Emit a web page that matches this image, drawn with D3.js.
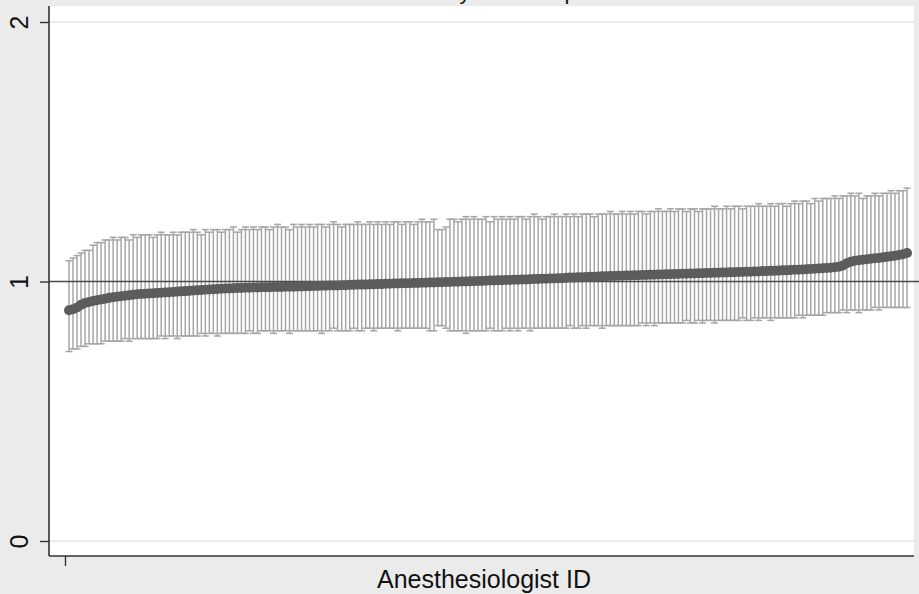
<!DOCTYPE html>
<html>
<head>
<meta charset="utf-8">
<script src="https://cdn.jsdelivr.net/npm/d3@7"></script>
<style>
html,body{margin:0;padding:0;background:#ebebeb;}
svg{display:block;}
text{font-family:"Liberation Sans",Arial,sans-serif;fill:#111;}
</style>
</head>
<body>
<svg id="chart" width="919" height="594"></svg>
<script>
const titleText = "Odds Ratio by OR Group";
const xTitle = "Anesthesiologist ID";
const yTicks = [0, 1, 2];
const xTicks = [0];
const refValue = 1;

const estimate = [
0.889,0.893,0.900,0.910,0.917,0.921,0.925,0.928,0.931,0.934,
0.937,0.939,0.941,0.943,0.945,0.947,0.949,0.951,0.952,0.953,
0.954,0.955,0.956,0.957,0.958,0.959,0.960,0.961,0.962,0.963,
0.964,0.965,0.966,0.967,0.968,0.969,0.970,0.971,0.972,0.973,
0.973,0.974,0.975,0.975,0.976,0.976,0.977,0.977,0.978,0.978,
0.978,0.979,0.979,0.979,0.980,0.980,0.980,0.981,0.981,0.982,
0.982,0.983,0.983,0.984,0.984,0.985,0.985,0.985,0.986,0.986,
0.987,0.987,0.988,0.988,0.988,0.989,0.989,0.990,0.990,0.991,
0.991,0.992,0.992,0.993,0.993,0.993,0.994,0.994,0.995,0.995,
0.996,0.996,0.997,0.997,0.998,0.998,0.999,0.999,1.000,1.000,
1.001,1.001,1.002,1.002,1.003,1.004,1.004,1.005,1.005,1.006,
1.006,1.007,1.007,1.008,1.008,1.009,1.010,1.010,1.011,1.011,
1.012,1.012,1.013,1.013,1.014,1.015,1.015,1.016,1.016,1.017,
1.018,1.018,1.019,1.020,1.020,1.021,1.021,1.022,1.022,1.023,
1.023,1.024,1.024,1.025,1.025,1.026,1.026,1.027,1.027,1.028,
1.028,1.029,1.029,1.030,1.030,1.031,1.031,1.032,1.032,1.033,
1.033,1.034,1.034,1.035,1.035,1.036,1.036,1.037,1.037,1.038,
1.038,1.039,1.039,1.040,1.040,1.041,1.041,1.042,1.043,1.043,
1.044,1.045,1.045,1.046,1.047,1.048,1.049,1.050,1.051,1.052,
1.053,1.055,1.057,1.062,1.070,1.076,1.080,1.082,1.084,1.086,
1.088,1.090,1.091,1.093,1.095,1.097,1.099,1.102,1.105,1.110
];

const upper = [
1.08,1.09,1.10,1.11,1.12,1.12,1.14,1.15,1.15,1.16,
1.16,1.17,1.16,1.17,1.17,1.16,1.18,1.17,1.18,1.18,
1.18,1.17,1.18,1.19,1.18,1.18,1.19,1.18,1.19,1.19,
1.19,1.20,1.19,1.18,1.20,1.19,1.20,1.20,1.19,1.20,
1.20,1.21,1.19,1.20,1.21,1.20,1.21,1.20,1.21,1.21,
1.20,1.21,1.22,1.21,1.21,1.20,1.22,1.21,1.22,1.21,
1.22,1.21,1.22,1.22,1.21,1.22,1.23,1.22,1.21,1.22,
1.22,1.22,1.23,1.22,1.22,1.23,1.22,1.23,1.22,1.23,
1.22,1.23,1.23,1.22,1.23,1.23,1.22,1.23,1.24,1.23,
1.23,1.24,1.20,1.20,1.21,1.24,1.24,1.23,1.24,1.25,
1.24,1.25,1.24,1.24,1.25,1.23,1.25,1.24,1.25,1.24,
1.25,1.24,1.25,1.25,1.24,1.25,1.26,1.25,1.24,1.25,
1.25,1.26,1.25,1.25,1.26,1.25,1.26,1.25,1.26,1.26,
1.26,1.25,1.26,1.26,1.26,1.27,1.26,1.26,1.27,1.26,
1.27,1.26,1.27,1.27,1.26,1.27,1.27,1.28,1.27,1.27,
1.28,1.27,1.28,1.28,1.27,1.28,1.28,1.27,1.28,1.28,
1.28,1.29,1.28,1.28,1.29,1.28,1.29,1.29,1.28,1.29,
1.29,1.29,1.30,1.29,1.29,1.30,1.29,1.30,1.30,1.29,
1.30,1.31,1.30,1.31,1.31,1.30,1.32,1.31,1.32,1.32,
1.32,1.33,1.32,1.33,1.33,1.34,1.33,1.34,1.32,1.33,
1.33,1.34,1.33,1.34,1.34,1.35,1.34,1.35,1.35,1.36
];

const lower = [
0.73,0.74,0.74,0.75,0.75,0.76,0.76,0.76,0.76,0.77,
0.77,0.77,0.77,0.77,0.78,0.77,0.78,0.78,0.78,0.78,
0.78,0.78,0.78,0.79,0.78,0.79,0.79,0.78,0.79,0.79,
0.79,0.79,0.79,0.80,0.79,0.80,0.80,0.79,0.80,0.80,
0.80,0.80,0.80,0.80,0.80,0.81,0.80,0.80,0.81,0.81,
0.81,0.80,0.81,0.81,0.81,0.80,0.81,0.81,0.81,0.81,
0.81,0.81,0.81,0.80,0.81,0.81,0.82,0.81,0.81,0.81,
0.81,0.82,0.81,0.81,0.82,0.82,0.81,0.82,0.82,0.82,
0.82,0.82,0.81,0.82,0.82,0.82,0.82,0.82,0.82,0.82,
0.81,0.81,0.83,0.83,0.82,0.81,0.81,0.81,0.81,0.80,
0.81,0.81,0.81,0.81,0.81,0.82,0.81,0.81,0.81,0.82,
0.81,0.82,0.81,0.82,0.82,0.81,0.82,0.82,0.82,0.82,
0.82,0.82,0.82,0.82,0.82,0.83,0.82,0.82,0.83,0.82,
0.83,0.83,0.83,0.82,0.83,0.83,0.83,0.83,0.83,0.83,
0.83,0.83,0.83,0.84,0.83,0.84,0.83,0.84,0.84,0.84,
0.84,0.84,0.84,0.84,0.85,0.84,0.84,0.85,0.84,0.85,
0.85,0.84,0.85,0.85,0.85,0.85,0.85,0.85,0.86,0.85,
0.85,0.86,0.85,0.86,0.86,0.85,0.86,0.86,0.86,0.86,
0.86,0.86,0.87,0.86,0.87,0.87,0.87,0.87,0.87,0.88,
0.88,0.88,0.88,0.89,0.88,0.89,0.89,0.88,0.89,0.89,
0.89,0.90,0.89,0.90,0.90,0.90,0.90,0.90,0.90,0.90
];

const ids = estimate.map((d, i) => i + 1);
const data = ids.map((id, i) => ({id, est: estimate[i], lo: lower[i], hi: upper[i]}));

const svg = d3.select("#chart");
const W = 919, H = 594;
const plot = {left: 49, right: 914, top: 6, bottom: 556};

const x = d3.scaleLinear().domain([0, ids.length]).range([65, 907]);
const y = d3.scaleLinear().domain([0, 2]).range([541, 22]);

// background
svg.append("rect").attr("width", W).attr("height", H).attr("fill", "#ebebeb");
svg.append("rect")
  .attr("x", plot.left).attr("y", plot.top)
  .attr("width", plot.right - plot.left).attr("height", plot.bottom - plot.top)
  .attr("fill", "#ffffff");

// title (cropped at top edge, as in the reference)
svg.append("text")
  .attr("x", 331).attr("y", -1)
  .attr("font-size", 22)
  .text(titleText);

// gridlines
svg.append("g").selectAll("line").data(yTicks.filter(t => t !== refValue)).join("line")
  .attr("x1", plot.left).attr("x2", plot.right)
  .attr("y1", d => y(d)).attr("y2", d => y(d))
  .attr("stroke", "#e4e4e4").attr("stroke-width", 1.6);

// error bars
const eb = svg.append("g").attr("stroke", "#a6a6a6").attr("stroke-width", 1.5).attr("fill", "none");
eb.selectAll("line.v").data(data).join("line").attr("class", "v")
  .attr("x1", d => x(d.id)).attr("x2", d => x(d.id))
  .attr("y1", d => y(d.lo)).attr("y2", d => y(d.hi));
eb.selectAll("line.t").data(data).join("line").attr("class", "t")
  .attr("x1", d => x(d.id) - 3.5).attr("x2", d => x(d.id) + 3.5)
  .attr("y1", d => y(d.hi)).attr("y2", d => y(d.hi));
eb.selectAll("line.b").data(data).join("line").attr("class", "b")
  .attr("x1", d => x(d.id) - 3.5).attr("x2", d => x(d.id) + 3.5)
  .attr("y1", d => y(d.lo)).attr("y2", d => y(d.lo));

// reference line at 1
svg.append("line")
  .attr("x1", plot.left).attr("x2", 919)
  .attr("y1", y(refValue)).attr("y2", y(refValue))
  .attr("stroke", "#4a4a4a").attr("stroke-width", 1.4);

// points
svg.append("g").selectAll("circle").data(data).join("circle")
  .attr("cx", d => x(d.id)).attr("cy", d => y(d.est))
  .attr("r", 5).attr("fill", "#5c5c5c");

// y axis
const yAxis = d3.axisLeft(y).tickValues(yTicks).tickSize(9).tickPadding(12).tickFormat(d3.format("d"));
const gy = svg.append("g").attr("transform", `translate(${plot.left},0)`).call(yAxis);
gy.select(".domain").remove();
gy.selectAll(".tick line").attr("stroke", "#333").attr("stroke-width", 1.4);
gy.selectAll(".tick text")
  .attr("font-size", 25).attr("font-family", "Liberation Sans, Arial, sans-serif")
  .attr("fill", "#111")
  .attr("text-anchor", "middle")
  .attr("x", 0).attr("dy", 0)
  .attr("transform", "translate(-21,0) rotate(-90)");

svg.append("line")
  .attr("x1", plot.left).attr("x2", plot.left)
  .attr("y1", plot.top).attr("y2", plot.bottom)
  .attr("stroke", "#333").attr("stroke-width", 1.6);

// x axis
const xAxis = d3.axisBottom(x).tickValues(xTicks).tickSize(10).tickFormat("");
const gx = svg.append("g").attr("transform", `translate(0,${plot.bottom})`).call(xAxis);
gx.select(".domain").remove();
gx.selectAll(".tick line").attr("stroke", "#333").attr("stroke-width", 1.4);
svg.append("line")
  .attr("x1", plot.left).attr("x2", plot.right)
  .attr("y1", plot.bottom).attr("y2", plot.bottom)
  .attr("stroke", "#333").attr("stroke-width", 1.6);

svg.append("text")
  .attr("x", (plot.left + 919) / 2).attr("y", 588)
  .attr("text-anchor", "middle").attr("font-size", 25)
  .text(xTitle);
</script>
</body>
</html>
